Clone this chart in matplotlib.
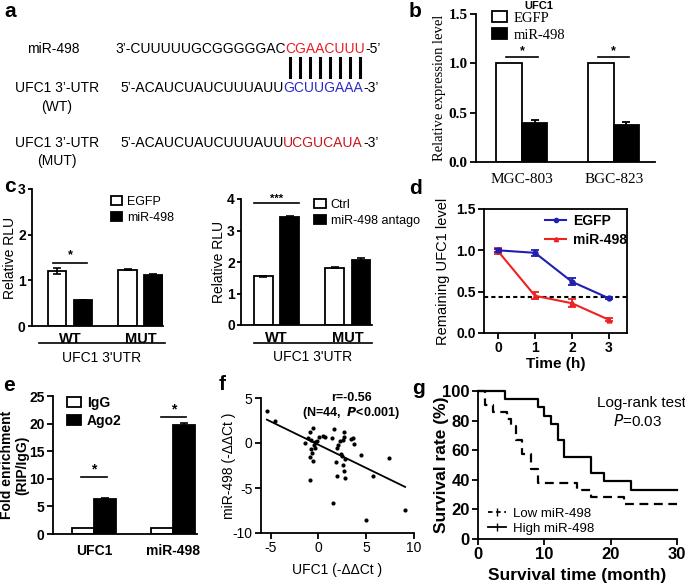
import numpy as np
import matplotlib
matplotlib.use('Agg')
import matplotlib.pyplot as plt
from matplotlib.lines import Line2D
from matplotlib.patches import Patch

W, H = 685, 585
SANS = ['Liberation Sans', 'DejaVu Sans']
SERIF = ['Liberation Serif', 'DejaVu Serif']
plt.rcParams['font.family'] = SANS
plt.rcParams['axes.linewidth'] = 1.3
plt.rcParams['xtick.major.width'] = 1.3
plt.rcParams['ytick.major.width'] = 1.3
plt.rcParams['xtick.major.size'] = 4
plt.rcParams['ytick.major.size'] = 4
plt.rcParams['xtick.major.pad'] = 2
plt.rcParams['ytick.major.pad'] = 2

# ---------------- data ----------------
# a: sequences
mir_lead = "3\u2019-CUUUUUGCGGGGGAC"
mir_seed = "CGAACUUU"
mir_tail = "-5\u2019"
utr_lead = "5\u2019-ACAUCUAUCUUUAUU"
wt_site = "GCUUGAAA"
mut_site = "UCGUCAUA"
utr_tail = "-3\u2019"

# b
b_cells = ['MGC-803', 'BGC-823']
b_egfp = [1.0, 1.0]
b_mir = [0.40, 0.37]
b_mir_err = [0.03, 0.04]

# c
c_groups = ['WT', 'MUT']
c1_egfp = [1.20, 1.23]
c1_egfp_err = [0.06, 0.01]
c1_mir = [0.57, 1.12]
c1_mir_err = [0.01, 0.01]
c2_ctrl = [1.55, 1.82]
c2_ctrl_err = [0.02, 0.02]
c2_antago = [3.42, 2.07]
c2_antago_err = [0.03, 0.07]

# d
d_time = [0, 1, 2, 3]
d_egfp = [1.00, 0.97, 0.62, 0.42]
d_egfp_err = [0.02, 0.04, 0.04, 0.01]
d_mir = [0.99, 0.45, 0.36, 0.16]
d_mir_err = [0.04, 0.04, 0.05, 0.02]
d_half = 0.43

# e
e_genes = ['UFC1', 'miR-498']
e_igg = [1.0, 1.0]
e_ago2 = [6.3, 19.7]
e_ago2_err = [0.25, 0.35]

# f
f_ufc1 = [-5.39, -4.50, -1.41, -1.06, -0.89, -0.55, -0.72, -0.38, -0.50, -0.82,
          -0.65, -0.89, -0.55, -0.14, -0.31, 0.03, 0.48, 0.65, -0.89, 1.41,
          1.68, 1.82, 1.92, 2.10, 2.27, 2.37, 1.92, 1.51, 2.61, 2.71,
          2.71, 2.51, 2.61, 2.71, 2.78, 2.78, 3.40, 3.58, 3.75, 4.43,
          5.70, 7.42, 5.02, 9.07]
f_mir = [3.59, 2.44, 0.03, 0.52, 1.26, 1.63, 0.33, 0.15, -0.20, -0.67,
         -1.15, -1.52, -2.00, 0.26, -0.52, 0.63, 0.81, 0.63, -4.11, 0.52,
         1.56, -2.15, -0.59, -0.22, 0.22, -1.22, -3.63, -6.63, 0.33, 1.26,
         0.70, -1.41, -2.44, -3.11, -3.93, -1.78, 0.44, 0.52, -0.15, -1.33,
         -3.63, -1.70, -8.56, -7.44]
f_slope = -0.517
f_intercept = -0.19

# g
g_high_t = [0, 4, 9, 10, 11, 12, 13, 17, 19, 23, 30]
g_high_s = [100, 94.4, 88.9, 83.3, 77.8, 66.7, 55.6, 44.4, 38.9, 33.3, 33.3]
g_low_t = [0, 1, 2.2, 4.3, 5, 5.8, 6.7, 8, 9, 15, 17, 22, 30]
g_low_s = [100, 90.5, 85.7, 81.0, 76.2, 66.7, 57.1, 47.6, 38.1, 33.3, 28.6, 23.8, 23.8]

# ---------------- figure ----------------
fig = plt.figure(figsize=(W / 100, H / 100), dpi=100)
BOX = {}


def add_ax(l, t, r, b):
    ax = fig.add_axes([l / W, 1 - b / H, (r - l) / W, (b - t) / H])
    BOX[ax] = (l, t, r, b)
    return ax


def ylab_at(ax, px):
    # px = right edge of the rotated y label, in figure pixels
    l, t, r, b = BOX[ax]
    ax.yaxis.set_label_coords((px - l) / (r - l), 0.5)


def xlab_at(ax, py):
    l, t, r, b = BOX[ax]
    ax.xaxis.set_label_coords(0.5, (b - py) / (b - t))


def fx(x):
    return x / W


def fy(y):
    return 1 - y / H


def prism(ax, top=False):
    for s in ['top', 'right']:
        ax.spines[s].set_visible(top)
    ax.tick_params(direction='out')


def sig(ax, x0, x1, y, label, dy, fs=9):
    ax.plot([x0, x1], [y, y], color='black', lw=1.2, clip_on=False)
    ax.text((x0 + x1) / 2, y + dy, label, ha='center', va='center', fontsize=fs,
            fontweight='bold')


def panel_label(x, y, s):
    fig.text(fx(x), fy(y), s, fontsize=15, fontweight='bold', ha='left', va='baseline')


# panel labels
panel_label(4, 17, 'a')
panel_label(409, 17, 'b')
panel_label(4, 192, 'c')
panel_label(409, 194, 'd')
panel_label(3, 391, 'e')
panel_label(219, 390, 'f')
panel_label(412, 394, 'g')

# ---------------- a ----------------
axa = fig.add_axes([0, 0, 1, 1])
axa.axis('off')
axa.set_zorder(-1)


def seq(x, y, parts, fs=10):
    t = axa.text(fx(x), fy(y), parts[0][0], color=parts[0][1], fontsize=fs,
                 ha='left', va='baseline', transform=fig.transFigure)
    arts = [t]
    for s, c in parts[1:]:
        t = axa.annotate(s, xy=(1, 0), xycoords=t, color=c, fontsize=fs,
                         ha='left', va='bottom')
        arts.append(t)
    return arts


RED = '#ec1c24'
BLUE = '#2b2bc4'
DRED = '#c8161d'
fs_a = 10
fig.text(fx(53), fy(53), 'miR-498', ha='center', va='baseline', fontsize=fs_a)
fig.text(fx(57), fy(92), "UFC1 3\u2019-UTR", ha='center', va='baseline', fontsize=fs_a)
fig.text(fx(57), fy(111), '(WT)', ha='center', va='baseline', fontsize=fs_a)
fig.text(fx(57), fy(147), "UFC1 3\u2019-UTR", ha='center', va='baseline', fontsize=fs_a)
fig.text(fx(57), fy(165), '(MUT)', ha='center', va='baseline', fontsize=fs_a)

mir_arts = seq(115, 53, [(mir_lead, 'black'), (mir_seed, RED), (mir_tail, 'black')])
seq(120, 92, [(utr_lead, 'black'), (wt_site, BLUE), (utr_tail, 'black')])
seq(120, 147, [(utr_lead, 'black'), (mut_site, DRED), (utr_tail, 'black')])

fig.canvas.draw()
bb = mir_arts[1].get_window_extent()
n = len(mir_seed)
step = bb.width / n
for i in range(n):
    xc = bb.x0 + step * (i + 0.5)
    fig.add_artist(Line2D([xc / W, xc / W], [fy(58), fy(77)], color='black', lw=2.2,
                          transform=fig.transFigure))

# ---------------- b ----------------
axb = add_ax(476, 14, 655, 162)
prism(axb)
xb = np.arange(len(b_cells))
wb = 0.277
axb.bar(xb - wb / 2, b_egfp, wb, color='white', edgecolor='black', lw=1.3)
axb.bar(xb + wb / 2, b_mir, wb, color='black', edgecolor='black', lw=1.3,
        yerr=b_mir_err, capsize=3, error_kw=dict(lw=1.3, capthick=1.3))
axb.set_xlim(-0.5, 1.45)
axb.set_ylim(0, 1.5)
axb.set_yticks([0, 0.5, 1.0, 1.5])
axb.set_yticklabels(['0.0', '0.5', '1.0', '1.5'], family=SERIF, fontsize=11, fontweight='bold')
axb.set_xticks(xb)
axb.set_xticklabels(b_cells, family=SERIF, fontsize=11)
axb.tick_params(axis='x', length=0, pad=8)
axb.set_ylabel('Relative expression level', family=SERIF, fontsize=10.5)
ylab_at(axb, 446)
for xi in xb:
    sig(axb, xi - 0.17, xi + 0.17, 1.065, '*', 0.06, fs=9)
axb.text(0.35, 1.02, 'UFC1', transform=axb.transAxes, ha='center', va='bottom',
         fontsize=8, fontweight='bold')
axb.legend(handles=[Patch(facecolor='white', edgecolor='black', lw=1.3, label='EGFP'),
                    Patch(facecolor='black', edgecolor='black', lw=1.3, label='miR-498')],
           loc='upper left', bbox_to_anchor=(0.09, 1.02), frameon=False,
           prop=dict(family=SERIF, size=10.5), handlelength=1.0, handleheight=0.8,
           handletextpad=0.5, labelspacing=0.25, borderpad=0, borderaxespad=0)

# ---------------- c ----------------
def rlu(ax, v1, e1, v2, e2, names, ymax, ticks, leg_anchor):
    prism(ax)
    x = np.arange(len(c_groups))
    w = 0.26
    off = 0.184
    ax.bar(x - off, v1, w, color='white', edgecolor='black', lw=1.3,
           yerr=e1, capsize=3, error_kw=dict(lw=1.2, capthick=1.2))
    ax.bar(x + off, v2, w, color='black', edgecolor='black', lw=1.3,
           yerr=e2, capsize=3, error_kw=dict(lw=1.2, capthick=1.2))
    ax.set_ylim(0, ymax)
    ax.set_yticks(ticks)
    ax.set_yticklabels([str(t) for t in ticks], fontsize=10, fontweight='bold')
    ax.tick_params(axis='y', length=3, pad=1.5)
    ax.set_xticks(x)
    ax.set_xticklabels(c_groups, fontsize=10.5, fontweight='bold')
    ax.tick_params(axis='x', length=0, pad=4)
    ax.set_ylabel('Relative RLU', fontsize=10)
    ax.legend(handles=[Patch(facecolor='white', edgecolor='black', lw=1.3, label=names[0]),
                       Patch(facecolor='black', edgecolor='black', lw=1.3, label=names[1])],
              loc='upper left', bbox_to_anchor=leg_anchor, frameon=False,
              prop=dict(size=9), handlelength=0.9, handleheight=0.75,
              handletextpad=0.4, labelspacing=0.3, borderpad=0, borderaxespad=0)
    return x


axc1 = add_ax(32, 189, 163, 326)
rlu(axc1, c1_egfp, c1_egfp_err, c1_mir, c1_mir_err, ['EGFP', 'miR-498'], 3, [0, 1, 2, 3],
    (0.6, 0.95))
axc1.set_xlim(-0.54, 1.32)
ylab_at(axc1, 17)
sig(axc1, -0.24, 0.24, 1.38, '*', 0.17, fs=9)
axc1.plot([0.053, 1.015], [-0.124, -0.124], transform=axc1.transAxes, color='black',
          lw=1.2, clip_on=False)
axc1.text(0.53, -0.23, "UFC1 3'UTR", transform=axc1.transAxes, ha='center', va='center',
          fontsize=10)

axc2 = add_ax(241, 199, 372, 325)
rlu(axc2, c2_ctrl, c2_ctrl_err, c2_antago, c2_antago_err, ['Ctrl', 'miR-498 antago'], 4,
    [0, 1, 2, 3, 4], (0.56, 1.0))
axc2.set_xlim(-0.5, 1.34)
ylab_at(axc2, 226)
sig(axc2, -0.32, 0.32, 3.87, '***', 0.15, fs=8)
axc2.plot([0.1, 1.0], [-0.143, -0.143], transform=axc2.transAxes, color='black',
          lw=1.2, clip_on=False)
axc2.text(0.55, -0.255, "UFC1 3'UTR", transform=axc2.transAxes, ha='center', va='center',
          fontsize=10)

# ---------------- d ----------------
axd = add_ax(484, 209, 627, 333)
axd.tick_params(direction='out')
DBLUE = '#1f1fb0'
DRED2 = '#ee2222'
axd.errorbar(d_time, d_egfp, yerr=d_egfp_err, color=DBLUE, marker='o', ms=3.5, lw=1.5,
             capsize=3, capthick=1.3, elinewidth=1.3, zorder=3)
axd.errorbar(d_time, d_mir, yerr=d_mir_err, color=DRED2, marker='^', ms=3.5, lw=1.5,
             capsize=3, capthick=1.3, elinewidth=1.3, zorder=2)
axd.axhline(d_half, color='black', ls=(0, (2, 1.5)), lw=1.5)
axd.set_xlim(-0.38, 3.49)
axd.set_ylim(0, 1.5)
axd.set_xticks(d_time)
axd.set_yticks([0, 0.5, 1.0, 1.5])
axd.set_yticklabels(['0.0', '0.5', '1.0', '1.5'], fontsize=10, fontweight='bold')
axd.set_xticklabels([str(t) for t in d_time], fontsize=10, fontweight='bold')
axd.set_xlabel('Time (h)', fontsize=11, fontweight='bold', labelpad=1)
axd.set_ylabel('Remaining UFC1 level', fontsize=10.5)
ylab_at(axd, 450)
axd.legend(handles=[Line2D([], [], color=DBLUE, marker='o', ms=3, lw=1.5, label='EGFP'),
                    Line2D([], [], color=DRED2, marker='^', ms=3, lw=1.5, label='miR-498')],
           loc='upper left', bbox_to_anchor=(0.43, 0.96), frameon=False,
           prop=dict(size=10, weight='bold'), handlelength=1.5, handletextpad=0.5,
           labelspacing=0.35, borderpad=0, borderaxespad=0)

# ---------------- e ----------------
axe = add_ax(53, 396, 197, 534)
prism(axe)
xe = np.arange(len(e_genes))
we = 0.28
axe.bar(xe - we / 2, e_igg, we, color='white', edgecolor='black', lw=1.3)
axe.bar(xe + we / 2, e_ago2, we, color='black', edgecolor='black', lw=1.3,
        yerr=e_ago2_err, capsize=3, error_kw=dict(lw=1.2, capthick=1.2))
axe.set_xlim(-0.52, 1.3)
axe.set_ylim(0, 25)
axe.set_yticks([0, 5, 10, 15, 20, 25])
axe.set_yticklabels(['0', '5', '10', '15', '20', '25'], fontsize=10, fontweight='bold')
axe.set_xticks(xe)
axe.set_xticklabels(e_genes, fontsize=10, fontweight='bold')
axe.tick_params(axis='x', length=0, pad=7)
axe.set_ylabel('Fold enrichment\n(RIP/IgG)', fontsize=10, fontweight='bold',
               linespacing=1.1)
ylab_at(axe, 29)
sig(axe, xe[0] - 0.16, xe[0] + 0.16, 10.3, '*', 1.3, fs=10)
sig(axe, xe[1] - 0.16, xe[1] + 0.16, 21.2, '*', 1.3, fs=10)
axe.legend(handles=[Patch(facecolor='white', edgecolor='black', lw=1.3, label='IgG'),
                    Patch(facecolor='black', edgecolor='black', lw=1.3, label='Ago2')],
           loc='upper left', bbox_to_anchor=(0.1, 1.0), frameon=False,
           prop=dict(size=10, weight='bold'), handlelength=1.0, handleheight=0.75,
           handletextpad=0.4, labelspacing=0.3, borderpad=0, borderaxespad=0)

# ---------------- f ----------------
axf = add_ax(261, 398, 414, 533)
prism(axf)
axf.scatter(f_ufc1, f_mir, s=9, color='black', zorder=3, linewidths=0)
xl = np.array([min(f_ufc1), max(f_ufc1)])
axf.plot(xl, f_slope * xl + f_intercept, color='black', lw=1.3)
axf.set_xlim(-6, 10)
axf.set_ylim(-10, 5)
axf.set_xticks([-5, 0, 5, 10])
axf.set_yticks([-10, -5, 0, 5])
axf.set_xticklabels(['-5', '0', '5', '10'], fontsize=10)
axf.set_yticklabels(['-10', '-5', '0', '5'], fontsize=10)
axf.set_xlabel('UFC1 (-\u0394\u0394Ct )', fontsize=10)
xlab_at(axf, 563)
axf.set_ylabel('miR-498 (-\u0394\u0394Ct )', fontsize=10)
ylab_at(axf, 236)
axf.text(0.59, 1.0, 'r=-0.56', transform=axf.transAxes, ha='center', va='center',
         fontsize=9, fontweight='bold')
axf.text(0.59, 0.89, '(N=44,  $\\mathbfit{P}$<0.001)', transform=axf.transAxes,
         ha='center', va='center', fontsize=9, fontweight='bold')

# ---------------- g ----------------
axg = add_ax(478, 391, 677, 539)
prism(axg)
axg.step(g_high_t, g_high_s, where='post', color='black', lw=1.6, clip_on=False)
axg.step(g_low_t, g_low_s, where='post', color='black', lw=1.6, ls=(0, (4, 2.5)),
         clip_on=False)
axg.set_xlim(0, 30)
axg.set_ylim(0, 100)
axg.set_xticks([0, 10, 20, 30])
axg.set_yticks([0, 20, 40, 60, 80, 100])
axg.set_xticklabels(['0', '10', '20', '30'], fontsize=12, fontweight='bold')
axg.set_yticklabels(['0', '20', '40', '60', '80', '100'], fontsize=12, fontweight='bold')
axg.set_xlabel('Survival time (month)', fontsize=12.5, fontweight='bold')
xlab_at(axg, 568)
axg.set_ylabel('Survival rate (%)', fontsize=12.5, fontweight='bold')
ylab_at(axg, 449)
axg.text(0.82, 0.92, 'Log-rank test', transform=axg.transAxes, ha='center', va='center',
         fontsize=11)
axg.text(0.8, 0.80, '$\\it{P}$=0.03', transform=axg.transAxes, ha='center', va='center',
         fontsize=11)
axg.legend(handles=[Line2D([], [], color='black', lw=1.3, ls=(0, (2.5, 2)), marker='|', ms=6,
                           label='Low miR-498'),
                    Line2D([], [], color='black', lw=1.3, marker='|', ms=6,
                           label='High miR-498')],
           loc='lower left', bbox_to_anchor=(0.05, 0.03), frameon=False,
           prop=dict(size=9.5), handlelength=1.4, handletextpad=0.5, labelspacing=0.2,
           borderpad=0, borderaxespad=0)

fig.savefig('out.png', dpi=100)
